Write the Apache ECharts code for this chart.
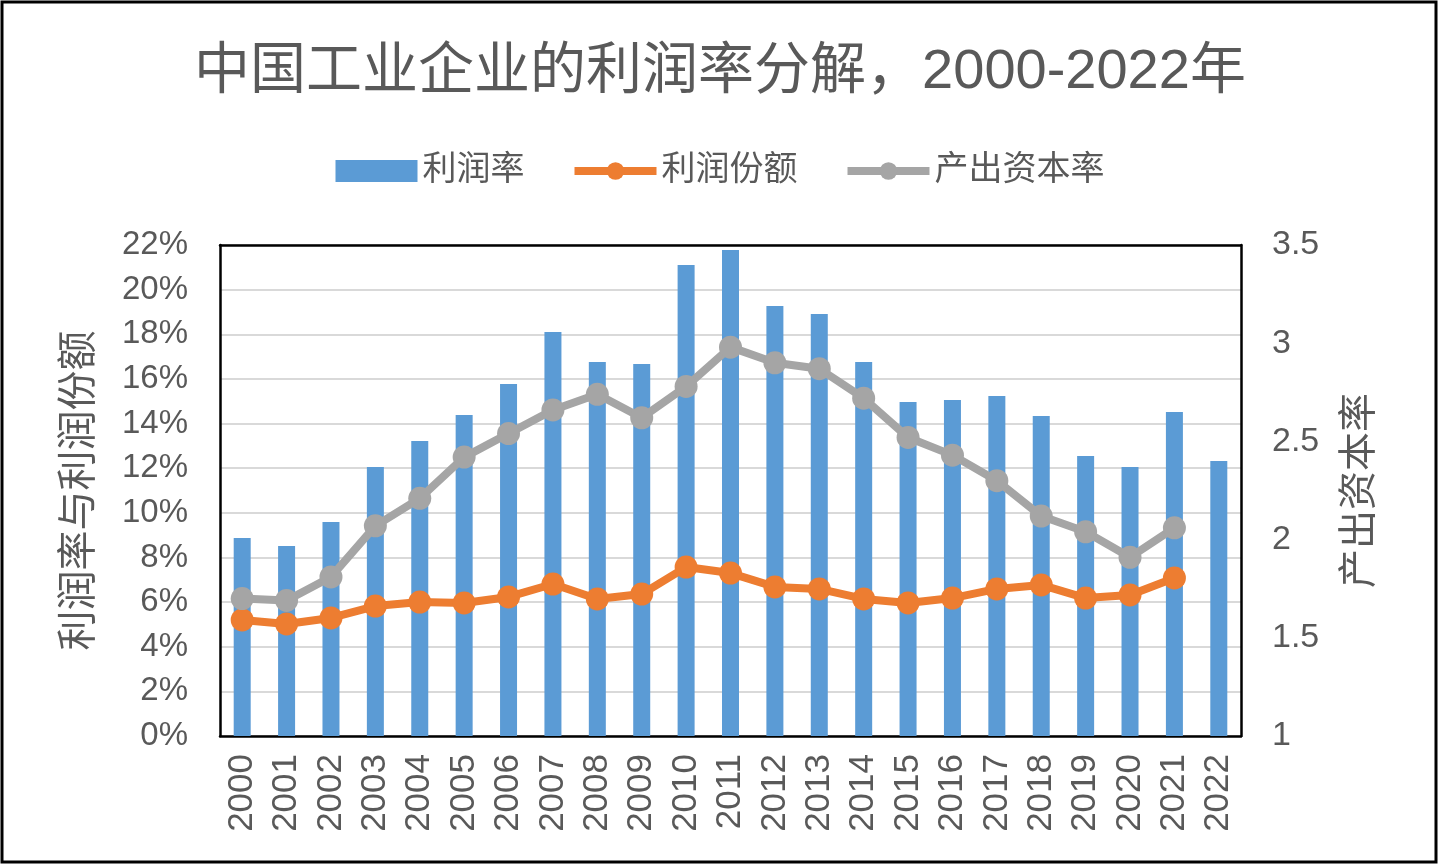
<!DOCTYPE html>
<html>
<head>
<meta charset="utf-8">
<title>中国工业企业的利润率分解，2000-2022年</title>
<script src="https://cdn.jsdelivr.net/npm/echarts@6/dist/echarts.min.js"></script>
<style>
  html, body { margin: 0; padding: 0; background: #fff; }
  #chart { width: 1440px; height: 866px; }
</style>
</head>
<body>
<div id="chart"></div>
<script>
(function() {
  // 年份
  var years = ['2000', '2001', '2002', '2003', '2004', '2005', '2006', '2007', '2008', '2009', '2010', '2011',
               '2012', '2013', '2014', '2015', '2016', '2017', '2018', '2019', '2020', '2021', '2022'];
  // 利润率 (%)
  var profitRate = [8.87, 8.51, 9.59, 12.05, 13.22, 14.38, 15.77, 18.1, 16.76, 16.67, 21.1, 21.78,
                    19.27, 18.91, 16.76, 14.97, 15.05, 15.23, 14.34, 12.55, 12.05, 14.52, 12.32];
  // 利润份额 (%)
  var profitShare = [5.2, 5.02, 5.29, 5.82, 6.0, 5.96, 6.23, 6.81, 6.14, 6.36, 7.57, 7.3,
                     6.68, 6.59, 6.14, 5.96, 6.18, 6.59, 6.77, 6.18, 6.32, 7.08, null];
  // 产出资本率
  var outputCapital = [1.70, 1.69, 1.81, 2.07, 2.21, 2.42, 2.54, 2.66, 2.74, 2.62, 2.78, 2.98,
                       2.90, 2.87, 2.72, 2.52, 2.43, 2.30, 2.12, 2.04, 1.91, 2.06, null];

  var font = 'Arial, "Liberation Sans", "Noto Sans CJK SC", sans-serif';
  var textColor = '#595959';
  var frame = { show: true, lineStyle: { color: '#000', width: 2.5 } };

  var myChart = echarts.init(document.getElementById('chart'));

  var option = {
    backgroundColor: '#fff',
    animation: false,
    title: {
      text: '中国工业企业的利润率分解，2000-2022年',
      left: 'center',
      top: 40,
      textStyle: { color: textColor, fontFamily: font, fontSize: 56, fontWeight: 'normal' }
    },
    graphic: [{
      type: 'rect',
      shape: { x: 2, y: 2, width: 1434, height: 860 },
      style: { fill: 'none', stroke: '#000', lineWidth: 3 },
      z: 100
    }],
    legend: {
      top: 149,
      left: 'center',
      itemWidth: 82,
      itemHeight: 22,
      itemGap: 46,
      textStyle: { color: textColor, fontFamily: font, fontSize: 34 },
      data: [
        { name: '利润率', icon: 'rect', itemStyle: { color: '#5b9bd5' } },
        { name: '利润份额', lineStyle: { width: 8, color: '#ed7d31' } },
        { name: '产出资本率', lineStyle: { width: 8, color: '#a5a5a5' } }
      ]
    },
    grid: {
      left: 220,
      right: 199,
      top: 245,
      bottom: 130,
      containLabel: false
    },
    xAxis: [{
      type: 'category',
      data: years,
      axisLine: frame,
      axisTick: { show: false },
      axisLabel: {
        rotate: 90,
        margin: 18,
        color: textColor,
        fontFamily: font,
        fontSize: 35,
        interval: 0
      }
    }, {
      // 顶部边框
      type: 'category',
      data: years,
      position: 'top',
      axisLine: frame,
      axisTick: { show: false },
      axisLabel: { show: false }
    }],
    yAxis: [{
      type: 'value',
      min: 0,
      max: 22,
      interval: 2,
      name: '利润率与利润份额',
      nameLocation: 'middle',
      nameRotate: 90,
      nameGap: 120,
      nameTextStyle: { color: textColor, fontFamily: font, fontSize: 40 },
      axisLine: frame,
      axisTick: { show: false },
      axisLabel: {
        margin: 32,
        color: textColor,
        fontFamily: font,
        fontSize: 33,
        formatter: '{value}%'
      },
      splitLine: { lineStyle: { color: '#d9d9d9', width: 2 } }
    }, {
      type: 'value',
      min: 1,
      max: 3.5,
      interval: 0.5,
      position: 'right',
      name: '产出资本率',
      nameLocation: 'middle',
      nameRotate: 90,
      nameGap: 100,
      nameTextStyle: { color: textColor, fontFamily: font, fontSize: 39 },
      axisLine: frame,
      axisTick: { show: false },
      axisLabel: {
        margin: 31,
        color: textColor,
        fontFamily: font,
        fontSize: 34
      },
      splitLine: { show: false }
    }],
    series: [
      {
        name: '利润率',
        type: 'bar',
        yAxisIndex: 0,
        barWidth: 17,
        itemStyle: { color: '#5b9bd5' },
        data: profitRate
      },
      {
        name: '利润份额',
        type: 'line',
        yAxisIndex: 0,
        symbol: 'circle',
        symbolSize: 23,
        lineStyle: { color: '#ed7d31', width: 8 },
        itemStyle: { color: '#ed7d31' },
        data: profitShare
      },
      {
        name: '产出资本率',
        type: 'line',
        yAxisIndex: 1,
        symbol: 'circle',
        symbolSize: 23,
        lineStyle: { color: '#a5a5a5', width: 8 },
        itemStyle: { color: '#a5a5a5' },
        data: outputCapital
      }
    ]
  };

  myChart.setOption(option);
  window.addEventListener('resize', function() {
    myChart.resize();
  });
})();
</script>
</body>
</html>
